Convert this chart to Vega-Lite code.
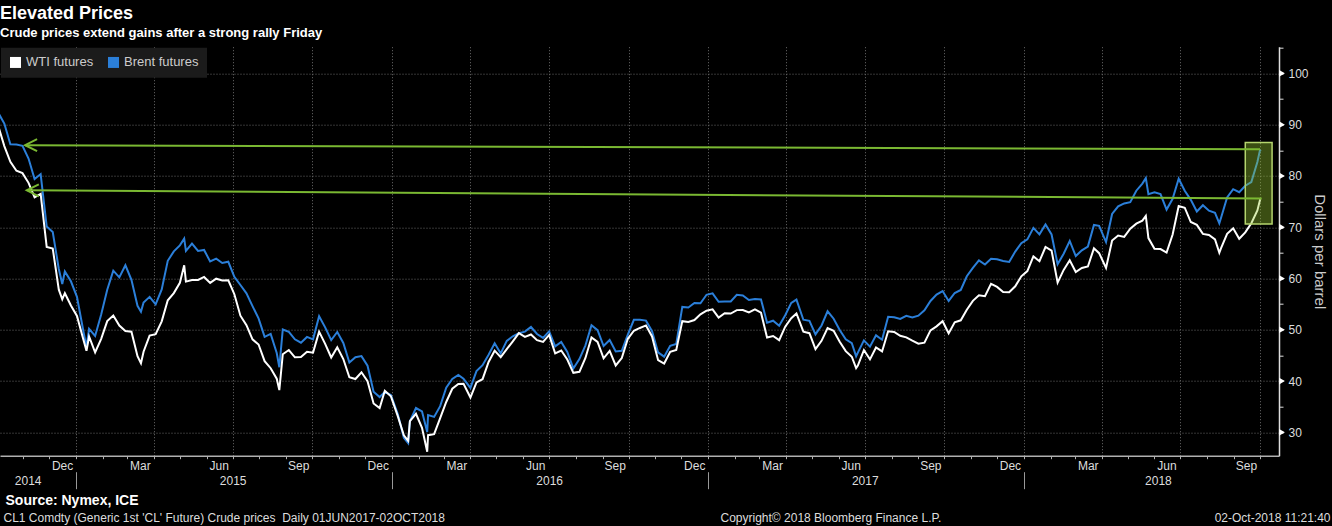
{
  "$schema": "https://vega.github.io/schema/vega-lite/v6.json",
  "width": 1279,
  "height": 409,
  "autosize": "none",
  "padding": {"left": 0, "top": 46.7, "right": 53, "bottom": 70.3},
  "background": "#000000",
  "title": {
    "text": "Elevated Prices",
    "subtitle": "Crude prices extend gains after a strong rally Friday",
    "anchor": "start",
    "frame": "group",
    "offset": 7,
    "font": "Liberation Sans",
    "fontSize": 18,
    "fontWeight": "bold",
    "color": "#ffffff",
    "subtitleFont": "Liberation Sans",
    "subtitleFontSize": 13,
    "subtitleFontWeight": "bold",
    "subtitleColor": "#ffffff",
    "subtitlePadding": 4
  },
  "datasets": {
    "prices": [
      {"d": "2014-10-03", "wti": 89.74, "brent": 92.31},
      {"d": "2014-10-10", "wti": 85.82, "brent": 90.21},
      {"d": "2014-10-17", "wti": 82.75, "brent": 86.16},
      {"d": "2014-10-24", "wti": 81.01, "brent": 86.13},
      {"d": "2014-10-31", "wti": 80.54, "brent": 85.86},
      {"d": "2014-11-07", "wti": 78.65, "brent": 83.39},
      {"d": "2014-11-14", "wti": 75.82, "brent": 79.41},
      {"d": "2014-11-21", "wti": 76.51, "brent": 80.36},
      {"d": "2014-11-28", "wti": 66.15, "brent": 70.15},
      {"d": "2014-12-05", "wti": 65.84, "brent": 69.07},
      {"d": "2014-12-12", "wti": 57.81, "brent": 61.85},
      {"d": "2014-12-16", "wti": 55.93, "brent": 58.92},
      {"d": "2014-12-19", "wti": 57.13, "brent": 61.38},
      {"d": "2014-12-26", "wti": 54.73, "brent": 59.45},
      {"d": "2015-01-02", "wti": 52.69, "brent": 56.42},
      {"d": "2015-01-09", "wti": 48.36, "brent": 50.11},
      {"d": "2015-01-13", "wti": 45.89, "brent": 46.59},
      {"d": "2015-01-16", "wti": 48.69, "brent": 50.17},
      {"d": "2015-01-23", "wti": 45.59, "brent": 48.79},
      {"d": "2015-01-30", "wti": 48.24, "brent": 52.99},
      {"d": "2015-02-06", "wti": 51.69, "brent": 57.8},
      {"d": "2015-02-13", "wti": 52.78, "brent": 61.52},
      {"d": "2015-02-20", "wti": 50.81, "brent": 60.22},
      {"d": "2015-02-27", "wti": 49.76, "brent": 62.58},
      {"d": "2015-03-06", "wti": 49.61, "brent": 59.73},
      {"d": "2015-03-13", "wti": 44.84, "brent": 54.67},
      {"d": "2015-03-17", "wti": 43.46, "brent": 53.51},
      {"d": "2015-03-20", "wti": 45.72, "brent": 55.32},
      {"d": "2015-03-27", "wti": 48.87, "brent": 56.41},
      {"d": "2015-04-03", "wti": 49.14, "brent": 54.95},
      {"d": "2015-04-10", "wti": 51.64, "brent": 57.87},
      {"d": "2015-04-17", "wti": 55.74, "brent": 63.45},
      {"d": "2015-04-24", "wti": 57.15, "brent": 65.28},
      {"d": "2015-05-01", "wti": 59.15, "brent": 66.46},
      {"d": "2015-05-06", "wti": 62.58, "brent": 67.77},
      {"d": "2015-05-08", "wti": 59.39, "brent": 65.39},
      {"d": "2015-05-15", "wti": 59.69, "brent": 66.81},
      {"d": "2015-05-22", "wti": 59.72, "brent": 65.37},
      {"d": "2015-05-29", "wti": 60.3, "brent": 65.56},
      {"d": "2015-06-05", "wti": 59.13, "brent": 63.31},
      {"d": "2015-06-12", "wti": 59.96, "brent": 63.87},
      {"d": "2015-06-19", "wti": 59.61, "brent": 63.02},
      {"d": "2015-06-26", "wti": 59.63, "brent": 63.26},
      {"d": "2015-07-03", "wti": 56.93, "brent": 60.32},
      {"d": "2015-07-10", "wti": 52.74, "brent": 58.73},
      {"d": "2015-07-17", "wti": 50.89, "brent": 57.1},
      {"d": "2015-07-24", "wti": 48.14, "brent": 54.62},
      {"d": "2015-07-31", "wti": 47.12, "brent": 52.21},
      {"d": "2015-08-07", "wti": 43.87, "brent": 48.61},
      {"d": "2015-08-14", "wti": 42.5, "brent": 49.19},
      {"d": "2015-08-21", "wti": 40.45, "brent": 45.46},
      {"d": "2015-08-24", "wti": 38.24, "brent": 42.69},
      {"d": "2015-08-28", "wti": 45.22, "brent": 50.05},
      {"d": "2015-09-04", "wti": 46.05, "brent": 49.61},
      {"d": "2015-09-11", "wti": 44.63, "brent": 48.14},
      {"d": "2015-09-18", "wti": 44.68, "brent": 47.47},
      {"d": "2015-09-25", "wti": 45.7, "brent": 48.6},
      {"d": "2015-10-02", "wti": 45.54, "brent": 48.13},
      {"d": "2015-10-09", "wti": 49.63, "brent": 52.65},
      {"d": "2015-10-16", "wti": 47.26, "brent": 50.46},
      {"d": "2015-10-23", "wti": 44.6, "brent": 47.99},
      {"d": "2015-10-30", "wti": 46.59, "brent": 49.56},
      {"d": "2015-11-06", "wti": 44.29, "brent": 47.42},
      {"d": "2015-11-13", "wti": 40.74, "brent": 43.61},
      {"d": "2015-11-20", "wti": 40.39, "brent": 44.66},
      {"d": "2015-11-27", "wti": 41.71, "brent": 44.86},
      {"d": "2015-12-04", "wti": 39.97, "brent": 43.0},
      {"d": "2015-12-11", "wti": 35.62, "brent": 37.93},
      {"d": "2015-12-18", "wti": 34.73, "brent": 36.88},
      {"d": "2015-12-24", "wti": 38.1, "brent": 37.89},
      {"d": "2015-12-31", "wti": 37.04, "brent": 37.28},
      {"d": "2016-01-08", "wti": 33.16, "brent": 33.55},
      {"d": "2016-01-15", "wti": 29.42, "brent": 28.94},
      {"d": "2016-01-20", "wti": 28.35, "brent": 27.88},
      {"d": "2016-01-22", "wti": 32.19, "brent": 32.18},
      {"d": "2016-01-29", "wti": 33.62, "brent": 34.74},
      {"d": "2016-02-05", "wti": 30.89, "brent": 34.06},
      {"d": "2016-02-11", "wti": 26.21, "brent": 30.06},
      {"d": "2016-02-12", "wti": 29.44, "brent": 33.36},
      {"d": "2016-02-19", "wti": 29.64, "brent": 33.01},
      {"d": "2016-02-26", "wti": 32.78, "brent": 35.1},
      {"d": "2016-03-04", "wti": 35.92, "brent": 38.72},
      {"d": "2016-03-11", "wti": 38.5, "brent": 40.39},
      {"d": "2016-03-18", "wti": 39.44, "brent": 41.2},
      {"d": "2016-03-24", "wti": 39.46, "brent": 40.44},
      {"d": "2016-04-01", "wti": 36.79, "brent": 38.67},
      {"d": "2016-04-08", "wti": 39.72, "brent": 41.94},
      {"d": "2016-04-15", "wti": 40.36, "brent": 43.1},
      {"d": "2016-04-22", "wti": 43.73, "brent": 45.11},
      {"d": "2016-04-29", "wti": 45.92, "brent": 47.37},
      {"d": "2016-05-06", "wti": 44.66, "brent": 45.37},
      {"d": "2016-05-13", "wti": 46.21, "brent": 47.83},
      {"d": "2016-05-20", "wti": 47.75, "brent": 48.72},
      {"d": "2016-05-27", "wti": 49.33, "brent": 49.32},
      {"d": "2016-06-03", "wti": 48.62, "brent": 49.64},
      {"d": "2016-06-10", "wti": 49.07, "brent": 50.54},
      {"d": "2016-06-17", "wti": 47.98, "brent": 49.17},
      {"d": "2016-06-24", "wti": 47.64, "brent": 48.41},
      {"d": "2016-07-01", "wti": 48.99, "brent": 49.71},
      {"d": "2016-07-08", "wti": 45.41, "brent": 46.76},
      {"d": "2016-07-15", "wti": 45.95, "brent": 47.61},
      {"d": "2016-07-22", "wti": 44.19, "brent": 45.69},
      {"d": "2016-07-29", "wti": 41.6, "brent": 42.46},
      {"d": "2016-08-05", "wti": 41.8, "brent": 44.27},
      {"d": "2016-08-12", "wti": 44.49, "brent": 46.97},
      {"d": "2016-08-19", "wti": 48.52, "brent": 50.88},
      {"d": "2016-08-26", "wti": 47.64, "brent": 49.92},
      {"d": "2016-09-02", "wti": 44.44, "brent": 46.83},
      {"d": "2016-09-09", "wti": 45.88, "brent": 48.01},
      {"d": "2016-09-16", "wti": 43.03, "brent": 45.77},
      {"d": "2016-09-23", "wti": 44.48, "brent": 45.89},
      {"d": "2016-09-30", "wti": 48.24, "brent": 49.06},
      {"d": "2016-10-07", "wti": 49.81, "brent": 51.93},
      {"d": "2016-10-14", "wti": 50.35, "brent": 51.95},
      {"d": "2016-10-21", "wti": 50.85, "brent": 51.78},
      {"d": "2016-10-28", "wti": 48.7, "brent": 49.71},
      {"d": "2016-11-04", "wti": 44.07, "brent": 45.58},
      {"d": "2016-11-11", "wti": 43.41, "brent": 44.75},
      {"d": "2016-11-18", "wti": 45.69, "brent": 46.86},
      {"d": "2016-11-25", "wti": 46.06, "brent": 47.24},
      {"d": "2016-12-02", "wti": 51.68, "brent": 54.46},
      {"d": "2016-12-09", "wti": 51.5, "brent": 54.33},
      {"d": "2016-12-16", "wti": 51.9, "brent": 55.21},
      {"d": "2016-12-23", "wti": 53.02, "brent": 55.16},
      {"d": "2016-12-30", "wti": 53.72, "brent": 56.82},
      {"d": "2017-01-06", "wti": 53.99, "brent": 57.1},
      {"d": "2017-01-13", "wti": 52.37, "brent": 55.45},
      {"d": "2017-01-20", "wti": 53.22, "brent": 55.49},
      {"d": "2017-01-27", "wti": 53.17, "brent": 55.52},
      {"d": "2017-02-03", "wti": 53.83, "brent": 56.81},
      {"d": "2017-02-10", "wti": 53.86, "brent": 56.7},
      {"d": "2017-02-17", "wti": 53.4, "brent": 55.81},
      {"d": "2017-02-24", "wti": 53.99, "brent": 55.99},
      {"d": "2017-03-03", "wti": 53.33, "brent": 55.9},
      {"d": "2017-03-10", "wti": 48.49, "brent": 51.37},
      {"d": "2017-03-17", "wti": 48.78, "brent": 51.76},
      {"d": "2017-03-24", "wti": 47.97, "brent": 50.8},
      {"d": "2017-03-31", "wti": 50.6, "brent": 52.83},
      {"d": "2017-04-07", "wti": 52.24, "brent": 55.24},
      {"d": "2017-04-13", "wti": 53.18, "brent": 55.89},
      {"d": "2017-04-21", "wti": 49.62, "brent": 51.96},
      {"d": "2017-04-28", "wti": 49.33, "brent": 51.73},
      {"d": "2017-05-05", "wti": 46.22, "brent": 49.1},
      {"d": "2017-05-12", "wti": 47.84, "brent": 50.84},
      {"d": "2017-05-19", "wti": 50.33, "brent": 53.61},
      {"d": "2017-05-26", "wti": 49.8, "brent": 52.15},
      {"d": "2017-06-02", "wti": 47.66, "brent": 49.95},
      {"d": "2017-06-09", "wti": 45.83, "brent": 48.15},
      {"d": "2017-06-16", "wti": 44.74, "brent": 47.37},
      {"d": "2017-06-21", "wti": 42.53, "brent": 44.82},
      {"d": "2017-06-23", "wti": 43.01, "brent": 45.54},
      {"d": "2017-06-30", "wti": 46.04, "brent": 47.92},
      {"d": "2017-07-07", "wti": 44.23, "brent": 46.71},
      {"d": "2017-07-14", "wti": 46.54, "brent": 48.91},
      {"d": "2017-07-21", "wti": 45.77, "brent": 48.06},
      {"d": "2017-07-28", "wti": 49.71, "brent": 52.52},
      {"d": "2017-08-04", "wti": 49.58, "brent": 52.42},
      {"d": "2017-08-11", "wti": 48.82, "brent": 52.1},
      {"d": "2017-08-18", "wti": 48.51, "brent": 52.72},
      {"d": "2017-08-25", "wti": 47.87, "brent": 52.41},
      {"d": "2017-09-01", "wti": 47.29, "brent": 52.75},
      {"d": "2017-09-08", "wti": 47.48, "brent": 53.78},
      {"d": "2017-09-15", "wti": 49.89, "brent": 55.62},
      {"d": "2017-09-22", "wti": 50.66, "brent": 56.86},
      {"d": "2017-09-29", "wti": 51.67, "brent": 57.54},
      {"d": "2017-10-06", "wti": 49.29, "brent": 55.62},
      {"d": "2017-10-13", "wti": 51.45, "brent": 57.17},
      {"d": "2017-10-20", "wti": 51.84, "brent": 57.75},
      {"d": "2017-10-27", "wti": 53.9, "brent": 60.44},
      {"d": "2017-11-03", "wti": 55.64, "brent": 62.07},
      {"d": "2017-11-10", "wti": 56.74, "brent": 63.52},
      {"d": "2017-11-17", "wti": 56.55, "brent": 62.72},
      {"d": "2017-11-24", "wti": 58.95, "brent": 63.86},
      {"d": "2017-12-01", "wti": 58.36, "brent": 63.73},
      {"d": "2017-12-08", "wti": 57.36, "brent": 63.4},
      {"d": "2017-12-15", "wti": 57.3, "brent": 63.23},
      {"d": "2017-12-22", "wti": 58.47, "brent": 65.25},
      {"d": "2017-12-29", "wti": 60.42, "brent": 66.87},
      {"d": "2018-01-05", "wti": 61.44, "brent": 67.62},
      {"d": "2018-01-12", "wti": 64.3, "brent": 69.87},
      {"d": "2018-01-19", "wti": 63.37, "brent": 68.61},
      {"d": "2018-01-26", "wti": 66.14, "brent": 70.52},
      {"d": "2018-02-02", "wti": 65.45, "brent": 68.58},
      {"d": "2018-02-09", "wti": 59.2, "brent": 62.79},
      {"d": "2018-02-16", "wti": 61.68, "brent": 64.84},
      {"d": "2018-02-23", "wti": 63.55, "brent": 67.31},
      {"d": "2018-03-02", "wti": 61.25, "brent": 64.37},
      {"d": "2018-03-09", "wti": 62.04, "brent": 65.49},
      {"d": "2018-03-16", "wti": 62.34, "brent": 66.21},
      {"d": "2018-03-23", "wti": 65.88, "brent": 70.45},
      {"d": "2018-03-29", "wti": 64.94, "brent": 70.27},
      {"d": "2018-04-06", "wti": 62.06, "brent": 67.11},
      {"d": "2018-04-13", "wti": 67.39, "brent": 72.58},
      {"d": "2018-04-20", "wti": 68.38, "brent": 74.06},
      {"d": "2018-04-27", "wti": 68.1, "brent": 74.64},
      {"d": "2018-05-04", "wti": 69.72, "brent": 74.87},
      {"d": "2018-05-11", "wti": 70.7, "brent": 77.12},
      {"d": "2018-05-18", "wti": 71.28, "brent": 78.51},
      {"d": "2018-05-22", "wti": 72.2, "brent": 79.57},
      {"d": "2018-05-25", "wti": 67.88, "brent": 76.44},
      {"d": "2018-06-01", "wti": 65.81, "brent": 76.79},
      {"d": "2018-06-08", "wti": 65.74, "brent": 76.46},
      {"d": "2018-06-15", "wti": 65.06, "brent": 73.44},
      {"d": "2018-06-22", "wti": 68.58, "brent": 75.55},
      {"d": "2018-06-29", "wti": 74.15, "brent": 79.44},
      {"d": "2018-07-06", "wti": 73.8, "brent": 77.11},
      {"d": "2018-07-13", "wti": 71.01, "brent": 75.33},
      {"d": "2018-07-20", "wti": 70.46, "brent": 73.07},
      {"d": "2018-07-27", "wti": 68.69, "brent": 74.29},
      {"d": "2018-08-03", "wti": 68.49, "brent": 73.21},
      {"d": "2018-08-10", "wti": 67.63, "brent": 72.81},
      {"d": "2018-08-15", "wti": 65.01, "brent": 70.76},
      {"d": "2018-08-17", "wti": 65.91, "brent": 71.83},
      {"d": "2018-08-24", "wti": 68.72, "brent": 75.82},
      {"d": "2018-08-31", "wti": 69.8, "brent": 77.42},
      {"d": "2018-09-07", "wti": 67.75, "brent": 76.83},
      {"d": "2018-09-14", "wti": 68.99, "brent": 78.09},
      {"d": "2018-09-21", "wti": 70.78, "brent": 78.8},
      {"d": "2018-09-28", "wti": 73.25, "brent": 82.72},
      {"d": "2018-10-01", "wti": 75.3, "brent": 84.98},
      {"d": "2018-10-02", "wti": 75.23, "brent": 84.8}
    ],
    "arrows": [
      {"x": "2014-11-03", "y": 86.0, "x2": "2018-10-01", "y2": 85.2},
      {"x": "2014-11-05", "y": 77.2, "x2": "2018-10-03", "y2": 75.6}
    ],
    "box": [
      {"x": "2018-09-14", "x2": "2018-10-15", "y": 86.5, "y2": 70.6}
    ],
    "marks10": [
      {"v": 30}, {"v": 40}, {"v": 50}, {"v": 60}, {"v": 70}, {"v": 80}, {"v": 90}, {"v": 100}
    ]
  },
  "resolve": {"axis": {"x": "independent", "y": "independent"}},
  "layer": [
    {
      "data": {"name": "prices"},
      "transform": [{"fold": ["brent", "wti"], "as": ["series", "price"]}],
      "mark": {"type": "line", "strokeWidth": 2, "clip": true},
      "encoding": {
        "x": {
          "field": "d", "type": "temporal",
          "scale": {"domain": [{"year": 2014, "month": 10, "date": 5, "utc": true}, {"year": 2018, "month": 10, "date": 23, "utc": true}], "nice": false},
          "axis": {
            "orient": "bottom",
            "tickCount": {"interval": "month", "step": 3},
            "grid": true, "gridColor": "#6a6a6a", "gridDash": [1, 2], "gridWidth": 1,
            "ticks": false, "labels": false,
            "domain": true, "domainColor": "#b0b0b0", "domainWidth": 1.5,
            "title": null
          }
        },
        "y": {
          "field": "price", "type": "quantitative",
          "scale": {"domain": [25.44, 105.2], "nice": false, "zero": false},
          "axis": {
            "orient": "right",
            "values": [30, 40, 50, 60, 70, 80, 90, 100],
            "grid": true, "gridColor": "#6a6a6a", "gridDash": [1, 2], "gridWidth": 1,
            "ticks": true, "tickSize": 4, "tickColor": "#dddddd",
            "domain": true, "domainColor": "#dddddd", "domainWidth": 1.5,
            "labelPadding": 5, "labelFont": "Liberation Sans", "labelFontSize": 12, "labelColor": "#dddddd",
            "title": "Dollars per barrel", "titleFont": "Liberation Sans", "titleFontSize": 15,
            "titleFontWeight": "normal", "titleColor": "#cccccc", "titlePadding": 3
          }
        },
        "color": {
          "field": "series", "type": "nominal",
          "scale": {"domain": ["wti", "brent"], "range": ["#ffffff", "#2b7fd9"]},
          "legend": {
            "orient": "none", "legendX": 1, "legendY": 1,
            "direction": "horizontal", "title": null,
            "fillColor": "#1b1b1b", "padding": 8,
            "symbolType": "square", "symbolSize": 121, "symbolStrokeWidth": 0,
            "labelExpr": "datum.label == 'wti' ? 'WTI futures' : 'Brent futures'",
            "labelColor": "#cccccc", "labelFont": "Liberation Sans", "labelFontSize": 13,
            "labelOffset": 4, "columnPadding": 13,
            "encode": {"symbols": {"update": {"fill": {"scale": "color", "field": "value"}, "fillOpacity": {"value": 1}}}}
          }
        }
      }
    },
    {
      "data": {"name": "box"},
      "mark": {"type": "rect", "fill": "#9acd32", "fillOpacity": 0.38, "stroke": "#b5d56e", "strokeWidth": 1.5},
      "encoding": {
        "x": {
          "field": "x", "type": "temporal",
          "scale": {"domain": [{"year": 2014, "month": 10, "date": 5, "utc": true}, {"year": 2018, "month": 10, "date": 23, "utc": true}], "nice": false},
          "axis": {
            "orient": "bottom",
            "tickCount": {"interval": "month", "step": 1},
            "grid": false, "ticks": true, "tickSize": 3, "tickColor": "#b0b0b0",
            "labels": false, "domain": false,
            "title": "Source: Nymex, ICE", "titleX": 5, "titleY": 49, "titleAngle": 0,
            "titleAlign": "left", "titleBaseline": "alphabetic",
            "titleFont": "Liberation Sans", "titleFontSize": 14, "titleFontWeight": "bold", "titleColor": "#ffffff"
          }
        },
        "x2": {"field": "x2"},
        "y": {"field": "y", "type": "quantitative", "axis": null},
        "y2": {"field": "y2"}
      }
    },
    {
      "data": {"name": "arrows"},
      "mark": {"type": "rule", "stroke": "#7ab832", "strokeWidth": 2},
      "encoding": {
        "x": {
          "field": "x", "type": "temporal",
          "scale": {"domain": [{"year": 2014, "month": 10, "date": 5, "utc": true}, {"year": 2018, "month": 10, "date": 23, "utc": true}], "nice": false},
          "axis": {
            "orient": "bottom",
            "tickCount": {"interval": "month", "step": 3},
            "grid": false, "ticks": false, "tickSize": 0, "domain": false,
            "labelExpr": "timeFormat(datum.value - 864000000, '%b')",
            "labelOffset": -14, "labelPadding": 5, "labelFlush": false, "labelOverlap": false,
            "labelFont": "Liberation Sans", "labelFontSize": 12, "labelColor": "#dddddd",
            "title": "CL1 Comdty (Generic 1st 'CL' Future) Crude prices\u00a0 Daily 01JUN2017-02OCT2018",
            "titleX": 3, "titleY": 66, "titleAngle": 0, "titleAlign": "left", "titleBaseline": "alphabetic",
            "titleFont": "Liberation Sans", "titleFontSize": 12, "titleFontWeight": "normal", "titleColor": "#dddddd"
          }
        },
        "x2": {"field": "x2"},
        "y": {"field": "y", "type": "quantitative", "axis": null},
        "y2": {"field": "y2"}
      }
    },
    {
      "data": {"name": "arrows"},
      "mark": {"type": "point", "shape": "M2,-1L0,0L2,1", "filled": false, "stroke": "#7ab832", "strokeWidth": 2, "size": 144, "opacity": 1},
      "encoding": {
        "x": {
          "field": "x", "type": "temporal",
          "scale": {"domain": [{"year": 2014, "month": 10, "date": 5, "utc": true}, {"year": 2018, "month": 10, "date": 23, "utc": true}], "nice": false},
          "axis": {
            "orient": "bottom", "offset": 16,
            "tickCount": {"interval": "year", "step": 1},
            "grid": false, "ticks": true, "tickSize": 17, "tickColor": "#999999",
            "labels": false, "domain": false,
            "title": "Copyright\u00a9 2018 Bloomberg Finance L.P.",
            "titleX": 720, "titleY": 50, "titleAngle": 0, "titleAlign": "left", "titleBaseline": "alphabetic",
            "titleFont": "Liberation Sans", "titleFontSize": 12, "titleFontWeight": "normal", "titleColor": "#dddddd"
          }
        },
        "y": {"field": "y", "type": "quantitative", "axis": null}
      }
    },
    {
      "data": {"name": "marks10"},
      "mark": {"type": "point", "shape": "triangle-right", "filled": true, "color": "#ffffff", "size": 45, "xOffset": 3, "opacity": 1},
      "encoding": {
        "x": {
          "datum": {"year": 2018, "month": 10, "date": 23, "utc": true}, "type": "temporal",
          "scale": {"domain": [{"year": 2014, "month": 10, "date": 5, "utc": true}, {"year": 2018, "month": 10, "date": 23, "utc": true}], "nice": false},
          "axis": {
            "orient": "bottom",
            "values": [
              {"year": 2014, "month": 11, "date": 6, "utc": true},
              {"year": 2015, "month": 7, "date": 1, "utc": true},
              {"year": 2016, "month": 7, "date": 1, "utc": true},
              {"year": 2017, "month": 7, "date": 1, "utc": true},
              {"year": 2018, "month": 6, "date": 5, "utc": true}
            ],
            "grid": false, "ticks": false, "tickSize": 0, "domain": false,
            "labelExpr": "timeFormat(datum.value, '%Y')",
            "labelPadding": 20, "labelFlush": false, "labelOverlap": false,
            "labelFont": "Liberation Sans", "labelFontSize": 12, "labelColor": "#dddddd",
            "title": "02-Oct-2018 11:21:40",
            "titleX": 1330, "titleY": 66, "titleAngle": 0, "titleAlign": "right", "titleBaseline": "alphabetic",
            "titleFont": "Liberation Sans", "titleFontSize": 12, "titleFontWeight": "normal", "titleColor": "#dddddd"
          }
        },
        "y": {
          "field": "v", "type": "quantitative",
          "axis": {
            "orient": "right",
            "values": [35, 45, 55, 65, 75, 85, 95, 105],
            "grid": false, "ticks": true, "tickSize": 4, "tickColor": "#dddddd",
            "labels": false, "domain": false, "title": null
          }
        }
      }
    }
  ],
  "config": {
    "background": "#000000",
    "view": {"stroke": null},
    "font": "Liberation Sans"
  }
}
